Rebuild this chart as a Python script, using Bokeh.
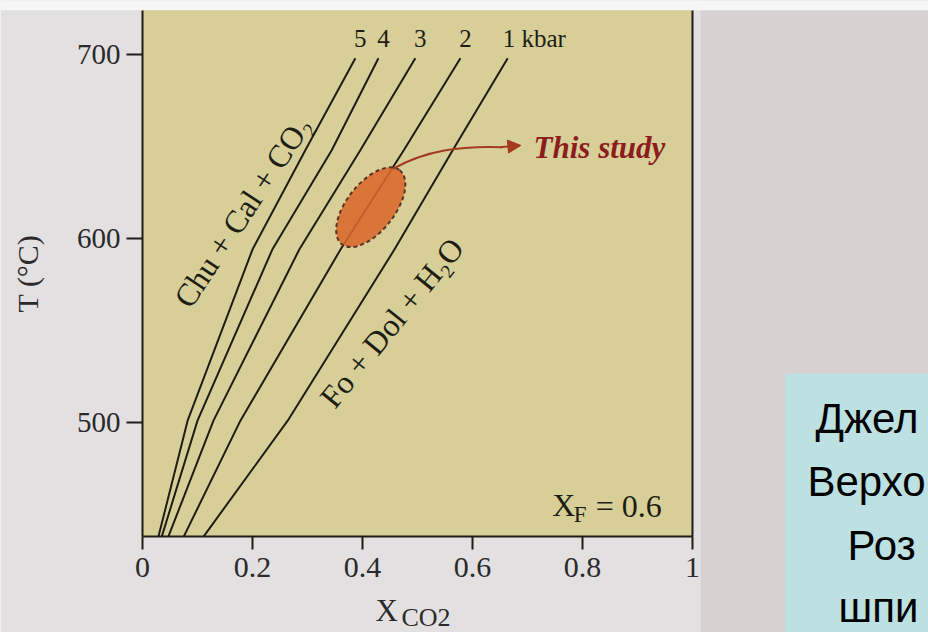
from bokeh.plotting import figure
from bokeh.models import Range1d, FixedTicker, LinearAxis, Arrow, NormalHead
from bokeh.embed import file_html
from bokeh.resources import INLINE
from bokeh.core.properties import value

# ---------------- data ----------------
T_c = [438, 501, 594, 648, 698]                 # temperature (°C) sample levels
x_5kbar = [0.029, 0.082, 0.200, 0.296, 0.387]   # X_CO2 of each isobar
x_4kbar = [0.035, 0.100, 0.236, 0.344, 0.429]
x_3kbar = [0.047, 0.129, 0.285, 0.396, 0.496]
x_2kbar = [0.075, 0.178, 0.360, 0.475, 0.578]
x_1kbar = [0.111, 0.264, 0.458, 0.564, 0.664]
pressure_labels = ["5", "4", "3", "2", "1 kbar"]
x_ticks = [0, 0.2, 0.4, 0.6, 0.8, 1]
x_tick_labels = ["0", "0.2", "0.4", "0.6", "0.8", "1"]
y_ticks = [500, 600, 700]
study_x = [0.415]
study_T = [617]
xf_value = "0.6"
slide_lines = ["Джел", "Верхо", "Роз", "шпи"]

X_MIN, X_MAX = 0, 1          # axis extent
T_MIN, T_MAX = 438, 724

SERIF = "Liberation Serif"
INK = "#1d1d16"

# the frame covers the whole canvas; axes are pinned with fixed_location
p = figure(width=928, height=632, x_range=Range1d(-0.2582, 1.4291),
           y_range=Range1d(385.87, 729.35),
           output_backend="svg", toolbar_location=None,
           min_border_left=0, min_border_right=0, min_border_top=0, min_border_bottom=0,
           background_fill_color="#e3e0e2", border_fill_color="#e3e0e2",
           outline_line_color=None)
p.grid.visible = False

# backgrounds: slide grey at right, white top strip, chart paper, blue text box
p.quad(left=[1.015], right=[1.43], bottom=[385.87], top=[729.35],
       fill_color="#d8d1d1", line_color=None)
p.quad(left=[-0.26], right=[1.43], bottom=[T_MAX], top=[729.35],
       fill_color="#f7f6f7", line_color=None)
p.quad(left=[X_MIN], right=[X_MAX], bottom=[T_MIN], top=[T_MAX],
       fill_color="#d8cf98", line_color=None)
p.quad(left=[1.169], right=[1.43], bottom=[385.87], top=[526.6],
       fill_color="#bde0e3", line_color=None)

for ax in (p.xaxis[0], p.yaxis[0]):
    ax.axis_line_color = INK
    ax.axis_line_width = 2
    ax.major_tick_line_color = INK
    ax.major_tick_line_width = 2
    ax.major_tick_in = 0
    ax.minor_tick_line_color = None
    ax.major_label_text_font = SERIF
    ax.major_label_text_color = "#2a2a2a"

p.xaxis.fixed_location = T_MIN
p.xaxis.bounds = (X_MIN, X_MAX)
p.xaxis.ticker = FixedTicker(ticks=x_ticks)
p.xaxis.major_label_overrides = {t: l for t, l in zip(x_ticks, x_tick_labels)}
p.xaxis.major_tick_out = 13
p.xaxis.major_label_standoff = 8
p.xaxis.major_label_text_font_size = "30px"

p.yaxis.fixed_location = X_MIN
p.yaxis.bounds = (T_MIN, T_MAX)
p.yaxis.ticker = FixedTicker(ticks=y_ticks)
p.yaxis.major_tick_out = 16
p.yaxis.major_label_standoff = 6
p.yaxis.major_label_text_font_size = "29px"
p.yaxis.axis_label = "T (°C)"
p.yaxis.axis_label_text_font = SERIF
p.yaxis.axis_label_text_font_style = "normal"
p.yaxis.axis_label_text_font_size = "30px"
p.yaxis.axis_label_text_color = "#2a2a2a"
p.yaxis.axis_label_standoff = 30

ra = LinearAxis(ticker=FixedTicker(ticks=[]), axis_line_color=INK, axis_line_width=2,
                major_tick_out=0, major_tick_in=0, minor_tick_out=0, minor_tick_in=0,
                major_label_text_font_size="0px", fixed_location=X_MAX,
                bounds=(T_MIN, T_MAX))
p.add_layout(ra, "right")

series = [x_5kbar, x_4kbar, x_3kbar, x_2kbar, x_1kbar]
for xs in series:
    p.line(xs, T_c, line_color=INK, line_width=2)

tops_x = [xs[-1] for xs in series]
p.text(x=tops_x[:4], y=[T_c[-1]] * 4, text=pressure_labels[:4], x_offset=5, y_offset=-20,
       text_align="center", text_baseline="middle", text_font=value(SERIF),
       text_font_size="25px", text_color=INK)
p.text(x=tops_x[4:], y=[T_c[-1]], text=pressure_labels[4:], x_offset=-5, y_offset=-20,
       text_align="left", text_baseline="middle", text_font=value(SERIF),
       text_font_size="25px", text_color=INK)

# study field
p.ellipse(x=study_x, y=study_T, width=94, height=48, angle=52, angle_units="deg",
          width_units="screen", height_units="screen",
          fill_color="#d9692b", fill_alpha=0.88, line_color="#5b3322",
          line_dash="4 3", line_width=2)

ARROW = "#a33b1f"
p.bezier(x0=[0.456], y0=[638], cx0=[0.515], cy0=[647.8], cx1=[0.578], cy1=[650.5],
         x1=[0.655], y1=[649.6], line_color=ARROW, line_width=2)
p.add_layout(Arrow(end=NormalHead(size=13, fill_color=ARROW, line_color=ARROW),
                   x_start=0.65, y_start=649.6, x_end=0.688, y_end=650.6,
                   line_color=ARROW, line_width=2))
p.text(x=[0.711], y=[649.5], text=["This study"], text_font=value(SERIF),
       text_font_style="bold italic", text_font_size="31px", text_color="#8c1d1d",
       text_baseline="middle")

# reaction labels
p.text(x=[0.182], y=[614.7], text=["Chu + Cal + CO₂"], angle=56.6, angle_units="deg",
       text_align="center", text_baseline="middle", text_font=value(SERIF),
       text_font_size="32px", text_color=INK)
p.text(x=[0.453], y=[554.3], text=["Fo + Dol + H₂O"], angle=51, angle_units="deg",
       text_align="center", text_baseline="middle", text_font=value(SERIF),
       text_font_size="32px", text_color=INK)

# X_F = 0.6
p.text(x=[0.745], y=[455.4], text=["X"], text_font=value(SERIF), text_font_size="32px",
       text_color=INK, text_baseline="middle")
p.text(x=[0.784], y=[449.8], text=["F"], text_font=value(SERIF), text_font_size="23px",
       text_color=INK, text_baseline="middle")
p.text(x=[0.824], y=[454.6], text=["= " + xf_value], text_font=value(SERIF),
       text_font_size="32px", text_color=INK, text_baseline="middle")

# x-axis title X_CO2
p.text(x=[0.4236], y=[398.0], text=["X"], text_font=value(SERIF), text_font_size="31px",
       text_color="#2a2a2a", text_baseline="middle")
p.text(x=[0.4709], y=[394.0], text=["CO2"], text_font=value(SERIF), text_font_size="26px",
       text_color="#2a2a2a", text_baseline="middle")

# slide text in the blue box
p.text(x=[1.2236, 1.2091, 1.2818, 1.2655], y=[502.2, 467.9, 433.2, 399.5], text=slide_lines,
       text_font=value("Liberation Sans"), text_font_size="42px", text_color="#000000",
       text_baseline="middle")

open("out.html", "w").write(file_html(p, INLINE))
